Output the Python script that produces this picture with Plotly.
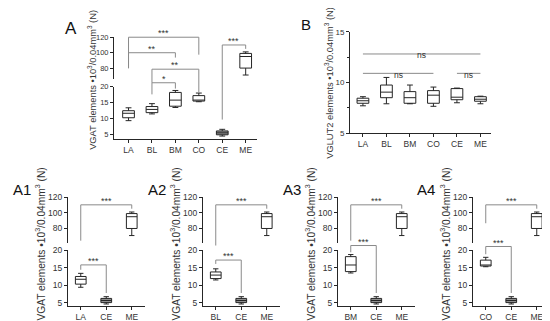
import plotly.graph_objects as go

W, H = 550, 321
FONT = "Liberation Sans, Arial, sans-serif"
AX = "#262626"
TXT = "#333333"
BR = "#8a8a8a"
CE_FILL = "#8f8f8f"

# ---------------- data ----------------
cats_A = ["LA", "BL", "BM", "CO", "CE", "ME"]
vgat_min = [9.4, 11.5, 13.5, 15.3, 4.6, 71]
vgat_q1 = [10.3, 11.9, 13.9, 15.5, 5.0, 80]
vgat_med = [11.7, 12.9, 15.8, 15.8, 5.6, 95]
vgat_q3 = [12.5, 13.8, 18.2, 17.2, 6.2, 99]
vgat_max = [13.4, 14.7, 18.8, 18.0, 6.7, 101]

cats_B = ["LA", "BL", "BM", "CO", "CE", "ME"]
vglut_min = [7.7, 7.9, 7.9, 7.65, 8.0, 7.9]
vglut_q1 = [7.95, 8.5, 7.95, 7.95, 8.3, 8.15]
vglut_med = [8.2, 9.05, 8.5, 8.75, 8.55, 8.35]
vglut_q3 = [8.45, 9.75, 9.1, 9.2, 9.4, 8.6]
vglut_max = [8.6, 10.5, 9.75, 9.55, 9.45, 8.65]

sub_panels = [("A1", "LA"), ("A2", "BL"), ("A3", "BM"), ("A4", "CO")]

lower_ticks = [5, 10, 15, 20]
upper_ticks = [80, 100, 120]
b_ticks = [5, 10, 15]

ytitle_vgat = "VGAT elements •10<sup>3</sup>/0.04mm<sup>3</sup> (N)"
ytitle_vglut = "VGLUT2 elements •10<sup>3</sup>/0.04mm<sup>3</sup> (N)"


def xf(px):
    return px / W


def yf(px):
    return 1 - px / H


fig = go.Figure()
layout = {}
shapes = []
annotations = []


def axis_common(fs=8, **kw):
    d = dict(showline=True, linecolor=AX, linewidth=1, ticks="outside", ticklen=3,
             tickwidth=1, tickcolor=AX, showgrid=False, zeroline=False,
             tickfont=dict(family=FONT, size=fs, color=TXT))
    d.update(kw)
    return d


def add_box(cat, i, mins, q1s, meds, q3s, maxs, xa, ya, width, fill):
    fig.add_trace(go.Box(
        x=[cat], lowerfence=[mins[i]], q1=[q1s[i]], median=[meds[i]], q3=[q3s[i]],
        upperfence=[maxs[i]], xaxis=xa, yaxis=ya, width=width, whiskerwidth=0.5,
        fillcolor=fill, line=dict(color=AX, width=1), boxpoints=False,
        showlegend=False, hoverinfo="skip"))


def bracket(xa, xl, xr, ytop, yl, yr, text, tx, fsize=9):
    shapes.append(dict(type="line", xref=xa, yref="paper", x0=xl, x1=xr, y0=yf(ytop), y1=yf(ytop),
                       line=dict(color=BR, width=1)))
    shapes.append(dict(type="line", xref=xa, yref="paper", x0=xl, x1=xl, y0=yf(ytop), y1=yf(yl),
                       line=dict(color=BR, width=1)))
    shapes.append(dict(type="line", xref=xa, yref="paper", x0=xr, x1=xr, y0=yf(ytop), y1=yf(yr),
                       line=dict(color=BR, width=1)))
    annotations.append(dict(xref=xa, yref="paper", x=tx, y=yf(ytop - 4), text=text, showarrow=False,
                            xanchor="center", yanchor="middle",
                            font=dict(family=FONT, size=fsize, color=TXT)))


def label(text, x, y, size):
    annotations.append(dict(xref="paper", yref="paper", x=xf(x), y=yf(y), text=text, showarrow=False,
                            xanchor="center", yanchor="middle",
                            font=dict(family=FONT, size=size, color="#111111")))


def ytitle(text, x, y, size):
    annotations.append(dict(xref="paper", yref="paper", x=xf(x), y=yf(y), text=text, showarrow=False,
                            textangle=-90, xanchor="center", yanchor="middle",
                            font=dict(family=FONT, size=size, color=TXT)))


# ---------------- Panel A ----------------
layout["xaxis"] = axis_common(fs=8.5, domain=[xf(106), xf(249.4)], anchor="y", type="category",
                              categoryorder="array", categoryarray=cats_A, range=[-0.62, 5.5])
layout["yaxis"] = axis_common(fs=7.5, domain=[yf(130), yf(76)], anchor="x", range=[3.7, 20],
                              tickvals=lower_ticks)
layout["yaxis2"] = axis_common(fs=7.5, domain=[yf(68), yf(25)], anchor="x", range=[66, 120],
                               tickvals=upper_ticks)
for i, c in enumerate(cats_A):
    ya = "y2" if c == "ME" else "y"
    add_box(c, i, vgat_min, vgat_q1, vgat_med, vgat_q3, vgat_max, "x", ya, 0.5,
            CE_FILL if c == "CE" else "white")
bracket("x", 0, 3, 25, 57, 43, "***", 1.5)
bracket("x", 0, 2, 41, 57, 46, "**", 1)
bracket("x", 1, 3, 58, 72, 82, "**", 2)
bracket("x", 1, 2, 72, 84, 78, "*", 1.5)
bracket("x", 4, 5, 33, 110, 37, "***", 4.5)
label("A", 63, 16, 17)
ytitle(ytitle_vgat, 84, 69, 9.3)

# ---------------- Panel B ----------------
layout["xaxis2"] = axis_common(fs=8.5, domain=[xf(342), xf(483)], anchor="y3", type="category",
                               categoryorder="array", categoryarray=cats_B, range=[-0.55, 5.45])
layout["yaxis3"] = axis_common(fs=8, domain=[yf(124), yf(19.5)], anchor="x2", range=[5, 15],
                               tickvals=b_ticks,
                               minor=dict(ticks="outside", ticklen=2, tickcolor=AX, dtick=2.5, tick0=5))
for i, c in enumerate(cats_B):
    add_box(c, i, vglut_min, vglut_q1, vglut_med, vglut_q3, vglut_max, "x2", "y3", 0.5, "white")
for (x0, x1, yy) in [(0, 5, 42.3), (0, 3, 62.3), (4, 5, 62.3)]:
    shapes.append(dict(type="line", xref="x2", yref="paper", x0=x0, x1=x1, y0=yf(yy), y1=yf(yy),
                       line=dict(color=BR, width=1)))
    annotations.append(dict(xref="x2", yref="paper", x=(x0 + x1) / 2, y=yf(yy - 6), text="ns",
                            showarrow=False, font=dict(family=FONT, size=8.5, color=TXT)))
label("B", 298, 12, 15)
ytitle(ytitle_vglut, 321, 72, 9.3)

# ---------------- Panels A1-A4 ----------------
upper_br = [235, 240, 235, 217]
lower_br = [(260, 265), (255, 259), (240, 247), (241, 249)]
for k, (name, first) in enumerate(sub_panels):
    off = 135 * k
    xn = k + 3
    yl = 4 + 2 * k
    yu = yl + 1
    xa, yla, yua = f"x{xn}", f"y{yl}", f"y{yu}"
    cats = [first, "CE", "ME"]
    layout[f"xaxis{xn}"] = axis_common(fs=8.5, domain=[xf(60 + off), xf(136.5 + off)], anchor=yla,
                                       type="category", categoryorder="array", categoryarray=cats,
                                       range=[-0.5, 2.5])
    layout[f"yaxis{yl}"] = axis_common(fs=8.5, domain=[yf(302.5), yf(245)], anchor=xa, range=[4, 20],
                                       tickvals=lower_ticks)
    layout[f"yaxis{yu}"] = axis_common(fs=8.5, domain=[yf(237), yf(190)], anchor=xa, range=[62, 120],
                                       tickvals=upper_ticks)
    for c in cats:
        i = cats_A.index(c)
        add_box(c, i, vgat_min, vgat_q1, vgat_med, vgat_q3, vgat_max, xa,
                yua if c == "ME" else yla, 0.42, CE_FILL if c == "CE" else "white")
    bracket(xa, 0, 2, 198, upper_br[k], 202, "***", 1)
    bracket(xa, 0, 1, lower_br[k][0], lower_br[k][1], 289, "***", 0.5)
    label(name, 14 + off if k < 3 else 418, 182, 15)
    ytitle(ytitle_vgat, 32 + off, 239, 10.2)

fig.update_layout(**layout)
fig.update_layout(width=W, height=H, autosize=False, margin=dict(l=0, r=0, t=0, b=0),
                  paper_bgcolor="white", plot_bgcolor="white", showlegend=False,
                  shapes=shapes, annotations=annotations, boxmode="overlay",
                  font=dict(family=FONT, color=TXT))
fig.write_html("out.html")
